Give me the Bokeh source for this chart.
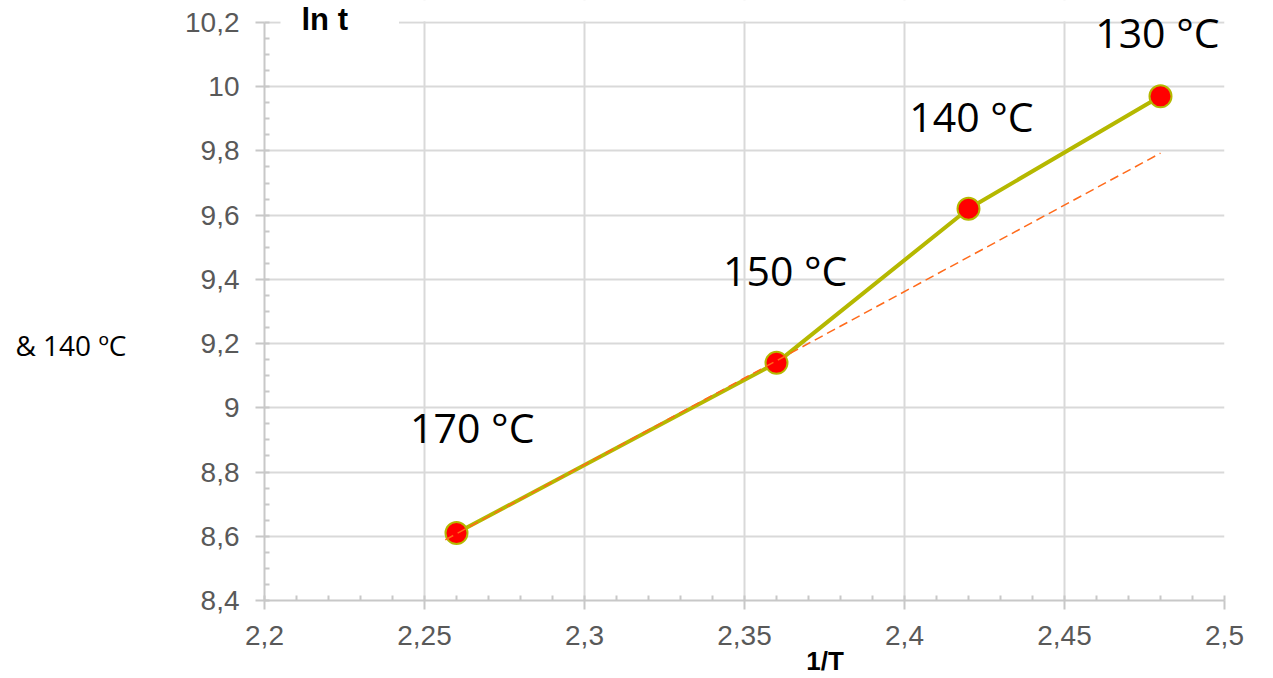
import numpy as np
from bokeh.plotting import figure
from bokeh.models import (ColumnDataSource, LabelSet, Label, FixedTicker,
                          CustomJSTickFormatter, Range1d, LinearAxis, BoxAnnotation)
from bokeh.core.properties import value
from bokeh.embed import file_html
from bokeh.resources import INLINE

# ---- data ----
inv_T = [2.26, 2.36, 2.42, 2.48]
ln_t = [8.61, 9.14, 9.62, 9.97]
temps = ["170 °C", "150 °C", "140 °C", "130 °C"]

trend_x = [2.2565, 2.48]
trend_y = [8.589, 9.793]

label_x = [2.2455, 2.3433, 2.4015, 2.4596]
label_y = [8.890, 9.379, 9.858, 10.119]

x_ticks = [2.2, 2.25, 2.3, 2.35, 2.4, 2.45, 2.5]
x_tick_labels = ["2,2", "2,25", "2,3", "2,35", "2,4", "2,45", "2,5"]
y_ticks = [8.4, 8.6, 8.8, 9.0, 9.2, 9.4, 9.6, 9.8, 10.0, 10.2]
y_tick_labels = ["8,4", "8,6", "8,8", "9", "9,2", "9,4", "9,6", "9,8", "10", "10,2"]

# captions placed beside the axes
x_caption_pos = [2.3752]
x_caption_text = ["1/T"]
y_note_pos = [9.195]
y_note_text = ["& 140 ºC"]

X_MIN, X_MAX = 2.2, 2.5
Y_MIN, Y_MAX = 8.4, 10.2
Y_VIEW_TOP = 10.2684   # headroom above the last tick for the labels

# ---- styles ----
GRID = "#D9D9D9"
AXIS = "#C8C8C8"
TICKTXT = "#595959"
OLIVE = "#B5B800"
ORANGE = "#FF6A1A"

p = figure(frame_width=960, height=678,
           min_border_left=264, min_border_right=48,
           min_border_top=0, min_border_bottom=10,
           x_range=Range1d(X_MIN, X_MAX), y_range=Range1d(Y_MIN, Y_VIEW_TOP),
           output_backend="svg", toolbar_location=None)
p.outline_line_color = None
p.background_fill_color = "white"
p.border_fill_color = "white"

x_minor = [round(v, 3) for v in np.arange(X_MIN, X_MAX + 1e-4, 0.01)]
y_minor = [round(v, 3) for v in np.arange(Y_MIN, Y_MAX + 1e-4, 0.05)]

p.xaxis.ticker = FixedTicker(ticks=x_ticks, minor_ticks=x_minor)
p.yaxis.ticker = FixedTicker(ticks=y_ticks, minor_ticks=y_minor)
p.yaxis.bounds = (Y_MIN, Y_MAX)

code = """
let best = 0;
for (let i = 0; i < tvals.length; i++) {
  if (Math.abs(tvals[i] - tick) < Math.abs(tvals[best] - tick)) best = i;
}
return tlabels[best];
"""
def fmt(vals, labels):
    return CustomJSTickFormatter(args=dict(tvals=vals, tlabels=labels), code=code)

p.xaxis.formatter = fmt(x_ticks, x_tick_labels)
p.yaxis.formatter = fmt(y_ticks, y_tick_labels)

for ax in (p.xaxis, p.yaxis):
    ax.axis_line_color = AXIS
    ax.axis_line_width = 2
    ax.major_tick_line_color = AXIS
    ax.major_tick_line_width = 2
    ax.major_tick_out = 9
    ax.major_tick_in = 0
    ax.minor_tick_line_color = AXIS
    ax.minor_tick_line_width = 2
    ax.minor_tick_in = 5
    ax.minor_tick_out = 0
    ax.major_label_text_font = "Liberation Sans"
    ax.major_label_text_font_size = "28px"
    ax.major_label_text_color = TICKTXT
p.xaxis.major_label_standoff = 16
p.yaxis.major_label_standoff = 16

p.xgrid.ticker = FixedTicker(ticks=x_ticks)
p.ygrid.ticker = FixedTicker(ticks=y_ticks)
p.grid.grid_line_color = GRID
p.grid.grid_line_width = 2

# hide the vertical grid above the top tick
p.add_layout(BoxAnnotation(bottom=Y_MAX + 0.004, fill_color="white", fill_alpha=1.0,
                           line_color=None, level="underlay"))

def caption_axis(pos, text, font, size, style, standoff):
    return LinearAxis(ticker=FixedTicker(ticks=pos), formatter=fmt(pos, text),
                      major_label_text_font=font, major_label_text_font_size=size,
                      major_label_text_font_style=style, major_label_text_color="black",
                      major_label_standoff=standoff,
                      axis_line_color=None, major_tick_line_color=None,
                      minor_tick_line_color=None, major_tick_out=0, major_tick_in=0,
                      minor_tick_out=0, minor_tick_in=0)

p.add_layout(caption_axis(x_caption_pos, x_caption_text, "Liberation Sans", "26px", "bold", -2), "below")
p.add_layout(caption_axis(y_note_pos, y_note_text, "Open Sans", "28px", "normal", 56), "left")

# ---- glyphs ----
src = ColumnDataSource(dict(x=inv_T, y=ln_t))
p.line("x", "y", source=src, line_color=OLIVE, line_width=4)
p.scatter("x", "y", source=src, size=22, fill_color="#FF0000",
          line_color=OLIVE, line_width=2)
p.line(trend_x, trend_y, line_color=ORANGE, line_width=1.5, line_dash="9 5")

# ---- labels ----
lsrc = ColumnDataSource(dict(x=label_x, y=label_y, t=temps))
p.add_layout(LabelSet(x="x", y="y", text="t", source=lsrc,
                      text_font=value("Open Sans"), text_font_size=value("41px"),
                      text_color="black", text_align="left",
                      text_baseline="alphabetic"))

p.add_layout(Label(x=2.205, y=10.21, text="ln t", text_font="Liberation Sans",
                   text_font_size="31px", text_font_style="bold",
                   text_color="black", text_align="left", text_baseline="middle",
                   background_fill_color="white",
                   padding=dict(left=21, right=51, top=2, bottom=2)))

open("out.html", "w").write(file_html(p, INLINE))
